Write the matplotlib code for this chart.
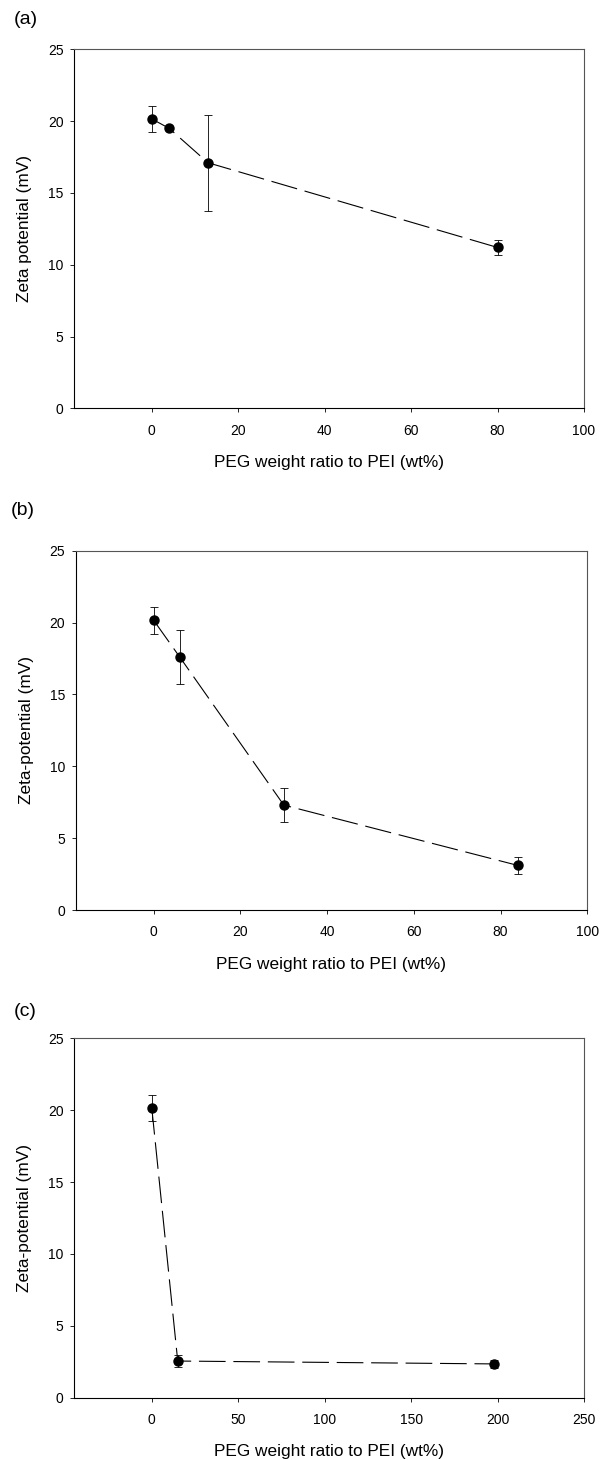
import matplotlib
matplotlib.use("Agg")
import matplotlib.pyplot as plt

plt.rcParams["font.family"] = ["Liberation Sans", "DejaVu Sans"]

# (a) zeta potential vs PEG ratio
a_x = [0, 4, 13, 80]
a_y = [20.15, 19.5, 17.1, 11.2]
a_err = [0.92, 0.15, 3.35, 0.5]

# (b)
b_x = [0, 6, 30, 84]
b_y = [20.15, 17.6, 7.3, 3.1]
b_err = [0.92, 1.9, 1.2, 0.57]

# (c)
c_x = [0, 15, 198]
c_y = [20.15, 2.55, 2.35]
c_err = [0.92, 0.43, 0.3]

x_ticks_ab = [0, 20, 40, 60, 80, 100]
x_ticks_c = [0, 50, 100, 150, 200, 250]
y_ticks = [0, 5, 10, 15, 20, 25]

W, H = 610, 1460
fig = plt.figure(figsize=(W / 100, H / 100), dpi=100)


def px_axes(left, right, top, bottom):
    return fig.add_axes([left / W, 1 - bottom / H, (right - left) / W, (bottom - top) / H])


def draw_panel(ax, x, y, err, xlim, xticks, ylabel, tag, tag_xy):
    w_px = ax.get_position().width * W
    h_px = ax.get_position().height * H

    ax.errorbar(x, y, yerr=err, fmt="none", ecolor="black", elinewidth=0.6,
                capsize=2.6, capthick=0.6, zorder=2)
    ax.plot(x, y, color="black", linewidth=0.8, dashes=(24, 7), zorder=3)
    ax.plot(x, y, "o", color="black", markersize=6.5, zorder=4)

    ax.set_xlim(*xlim)
    ax.set_ylim(0, 25)
    ax.set_xticks(xticks)
    ax.set_yticks(y_ticks)
    ax.tick_params(axis="both", direction="out", length=3, width=0.6, labelsize=10)
    ax.tick_params(axis="x", pad=8)
    ax.tick_params(axis="y", pad=4.5)

    for side in ["left", "bottom"]:
        ax.spines[side].set_color("black")
        ax.spines[side].set_linewidth(0.8)
    for side in ["top", "right"]:
        ax.spines[side].set_color("#555555")
        ax.spines[side].set_linewidth(0.8)

    ax.set_xlabel("PEG weight ratio to PEI (wt%)", fontsize=12.4)
    ax.set_ylabel(ylabel, fontsize=12.4)
    ax.xaxis.label.set_va("center")
    ax.yaxis.label.set_va("center")
    ax.xaxis.set_label_coords(0.5, -54 / h_px)
    ax.yaxis.set_label_coords(-49 / w_px, 0.5)

    fig.text(tag_xy[0] / W, 1 - tag_xy[1] / H, tag, fontsize=14, ha="left", va="center")


ax_a = px_axes(74, 584, 49.3, 408.3)
draw_panel(ax_a, a_x, a_y, a_err, (-18, 100), x_ticks_ab,
           "Zeta potential (mV)", "(a)", (14, 20))

ax_b = px_axes(75.7, 587.3, 550.7, 910)
draw_panel(ax_b, b_x, b_y, b_err, (-18, 100), x_ticks_ab,
           "Zeta-potential (mV)", "(b)", (11, 510))

ax_c = px_axes(74, 584, 1038.3, 1397.7)
draw_panel(ax_c, c_x, c_y, c_err, (-45, 250), x_ticks_c,
           "Zeta-potential (mV)", "(c)", (14, 1012))

fig.savefig("out.png", dpi=100)
